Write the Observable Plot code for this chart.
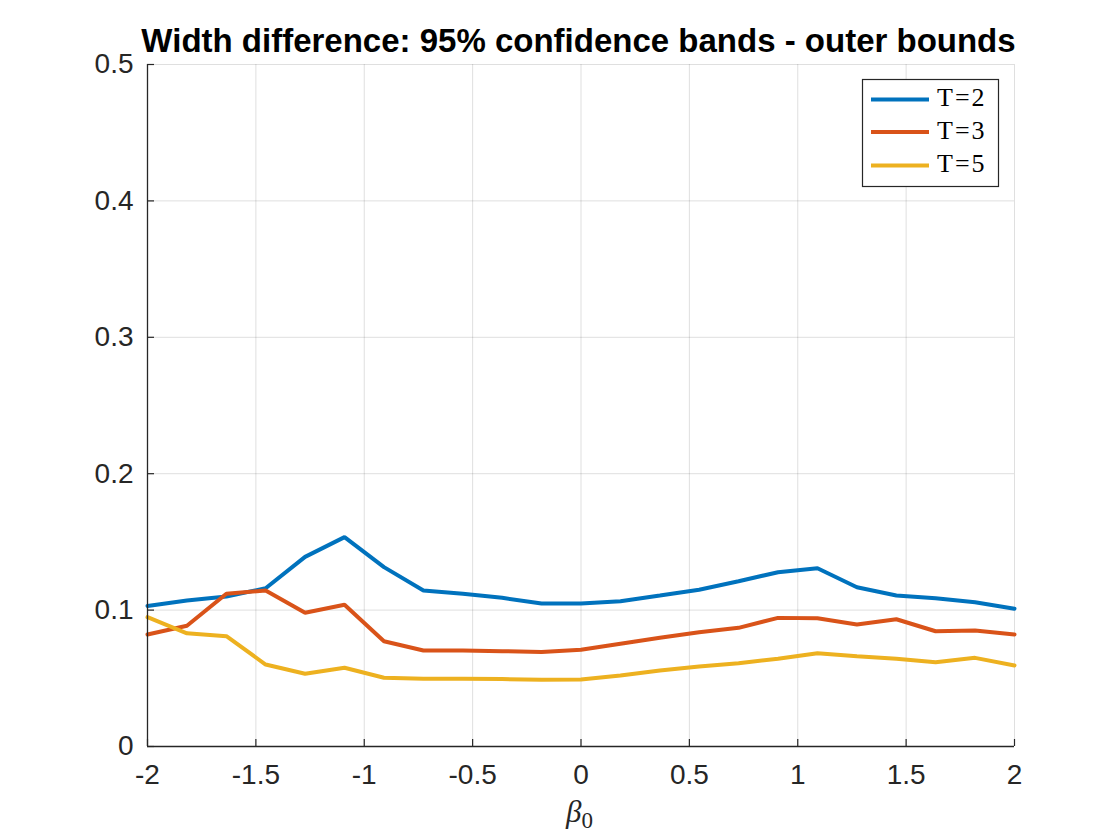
<!DOCTYPE html>
<html><head><meta charset="utf-8">
<script src="https://cdn.jsdelivr.net/npm/d3@7"></script>
<script src="https://cdn.jsdelivr.net/npm/@observablehq/plot@0.6"></script>
<style>body{margin:0;background:#fff} svg{display:block}</style>
</head><body><div id="chart"></div>
<script>
const xs = [-2, -1.818, -1.636, -1.455, -1.273, -1.091, -0.909, -0.727, -0.545, -0.364, -0.182, 0,
            0.182, 0.364, 0.545, 0.727, 0.909, 1.091, 1.273, 1.455, 1.636, 1.818, 2];
const seriesNames = ["T=2", "T=3", "T=5"];
const seriesColors = ["#0072BD", "#D95319", "#EDB120"];
const t2 = [0.103, 0.107, 0.110, 0.116, 0.139, 0.1535, 0.1315, 0.1144, 0.112, 0.109, 0.1048, 0.1048,
            0.1065, 0.1107, 0.1149, 0.1212, 0.1278, 0.1307, 0.1168, 0.1107, 0.1087, 0.1058, 0.101];
const t3 = [0.0821, 0.0885, 0.112, 0.1144, 0.098, 0.1039, 0.0772, 0.0704, 0.0704, 0.0699, 0.0692, 0.0709,
            0.0753, 0.0797, 0.0838, 0.087, 0.0943, 0.094, 0.0894, 0.0933, 0.0845, 0.085, 0.0821];
const t5 = [0.0948, 0.083, 0.0809, 0.0601, 0.0533, 0.0577, 0.0504, 0.0496, 0.0496, 0.0494, 0.0489, 0.0491,
            0.052, 0.0557, 0.0587, 0.0611, 0.0643, 0.0684, 0.0662, 0.0643, 0.0618, 0.065, 0.0594];
const xTicks = [-2, -1.5, -1, -0.5, 0, 0.5, 1, 1.5, 2];
const yTicks = [0, 0.1, 0.2, 0.3, 0.4, 0.5];
const titleText = "Width difference: 95% confidence bands - outer bounds";

const allSeries = [t2, t3, t5];
const data = [];
allSeries.forEach((vals, k) => vals.forEach((v, i) => data.push({x: xs[i], y: v, T: seriesNames[k]})));

const W = 1120, H = 840, ml = 147, mr = 106, mt = 64, mb = 94;
const fw = W - ml - mr, fh = H - mt - mb;
const axisColor = "#262626";

const chart = Plot.plot({
  width: W, height: H,
  marginLeft: ml, marginRight: mr, marginTop: mt, marginBottom: mb,
  style: {fontFamily: "'Liberation Sans', Arial, Helvetica, sans-serif", background: "white", color: axisColor, overflow: "visible"},
  x: {domain: [-2, 2], label: null},
  y: {domain: [0, 0.5], label: null},
  color: {domain: seriesNames, range: seriesColors},
  marks: [
    Plot.gridX(xTicks, {stroke: axisColor, strokeOpacity: 0.15, strokeWidth: 1}),
    Plot.gridY(yTicks, {stroke: axisColor, strokeOpacity: 0.15, strokeWidth: 1}),
    Plot.line(data, {x: "x", y: "y", z: "T", stroke: "T", strokeWidth: 4, strokeLinejoin: "miter"}),
    Plot.tickX(xTicks, {x: d => d, insetTop: fh - 7, stroke: axisColor, strokeWidth: 1.2}),
    Plot.tickY(yTicks, {y: d => d, insetRight: fw - 7, stroke: axisColor, strokeWidth: 1.2}),
    Plot.ruleX([-2], {stroke: axisColor, strokeWidth: 1.3}),
    Plot.ruleY([0], {stroke: axisColor, strokeWidth: 1.3}),
    Plot.axisX(xTicks, {tickSize: 0, tickPadding: 18, fontSize: 28, tickFormat: d => String(d), fill: axisColor}),
    Plot.axisY(yTicks, {tickSize: 0, tickPadding: 14, fontSize: 28, tickFormat: d => String(d), fill: axisColor})
  ]
});
document.getElementById("chart").appendChild(chart);

const svg = d3.select(chart);
// Title
svg.append("text")
  .attr("x", ml + fw / 2 - 2).attr("y", 52)
  .attr("text-anchor", "middle")
  .attr("font-family", "'Liberation Sans', Arial, Helvetica, sans-serif")
  .attr("font-weight", "bold").attr("font-size", 33).attr("fill", "#000")
  .text(titleText);

// x label: beta_0
const xl = svg.append("text")
  .attr("x", ml + fw / 2 - 1).attr("y", 822)
  .attr("text-anchor", "middle")
  .attr("font-family", "'Liberation Serif', 'DejaVu Serif', serif")
  .attr("fill", axisColor);
xl.append("tspan").attr("font-style", "italic").attr("font-size", 31).text("β");
xl.append("tspan").attr("font-size", 23).attr("dy", 6).text("0");

// Legend
const lx = 862.5, ly = 79.5, lw = 136, lh = 107;
const lg = svg.append("g");
lg.append("rect").attr("x", lx).attr("y", ly).attr("width", lw).attr("height", lh)
  .attr("fill", "white").attr("stroke", axisColor).attr("stroke-width", 1.2);
const rowY = [99.5, 132, 165.5];
seriesNames.forEach((name, k) => {
  lg.append("line").attr("x1", 871).attr("x2", 929).attr("y1", rowY[k]).attr("y2", rowY[k])
    .attr("stroke", seriesColors[k]).attr("stroke-width", 4);
  lg.append("text").attr("x", 937).attr("y", rowY[k] + 6.5)
    .attr("text-anchor", "start")
    .attr("font-family", "'Liberation Serif', 'DejaVu Serif', serif")
    .attr("font-size", 26).attr("letter-spacing", 2).attr("fill", "#000")
    .text(name);
});
</script>
</body></html>
